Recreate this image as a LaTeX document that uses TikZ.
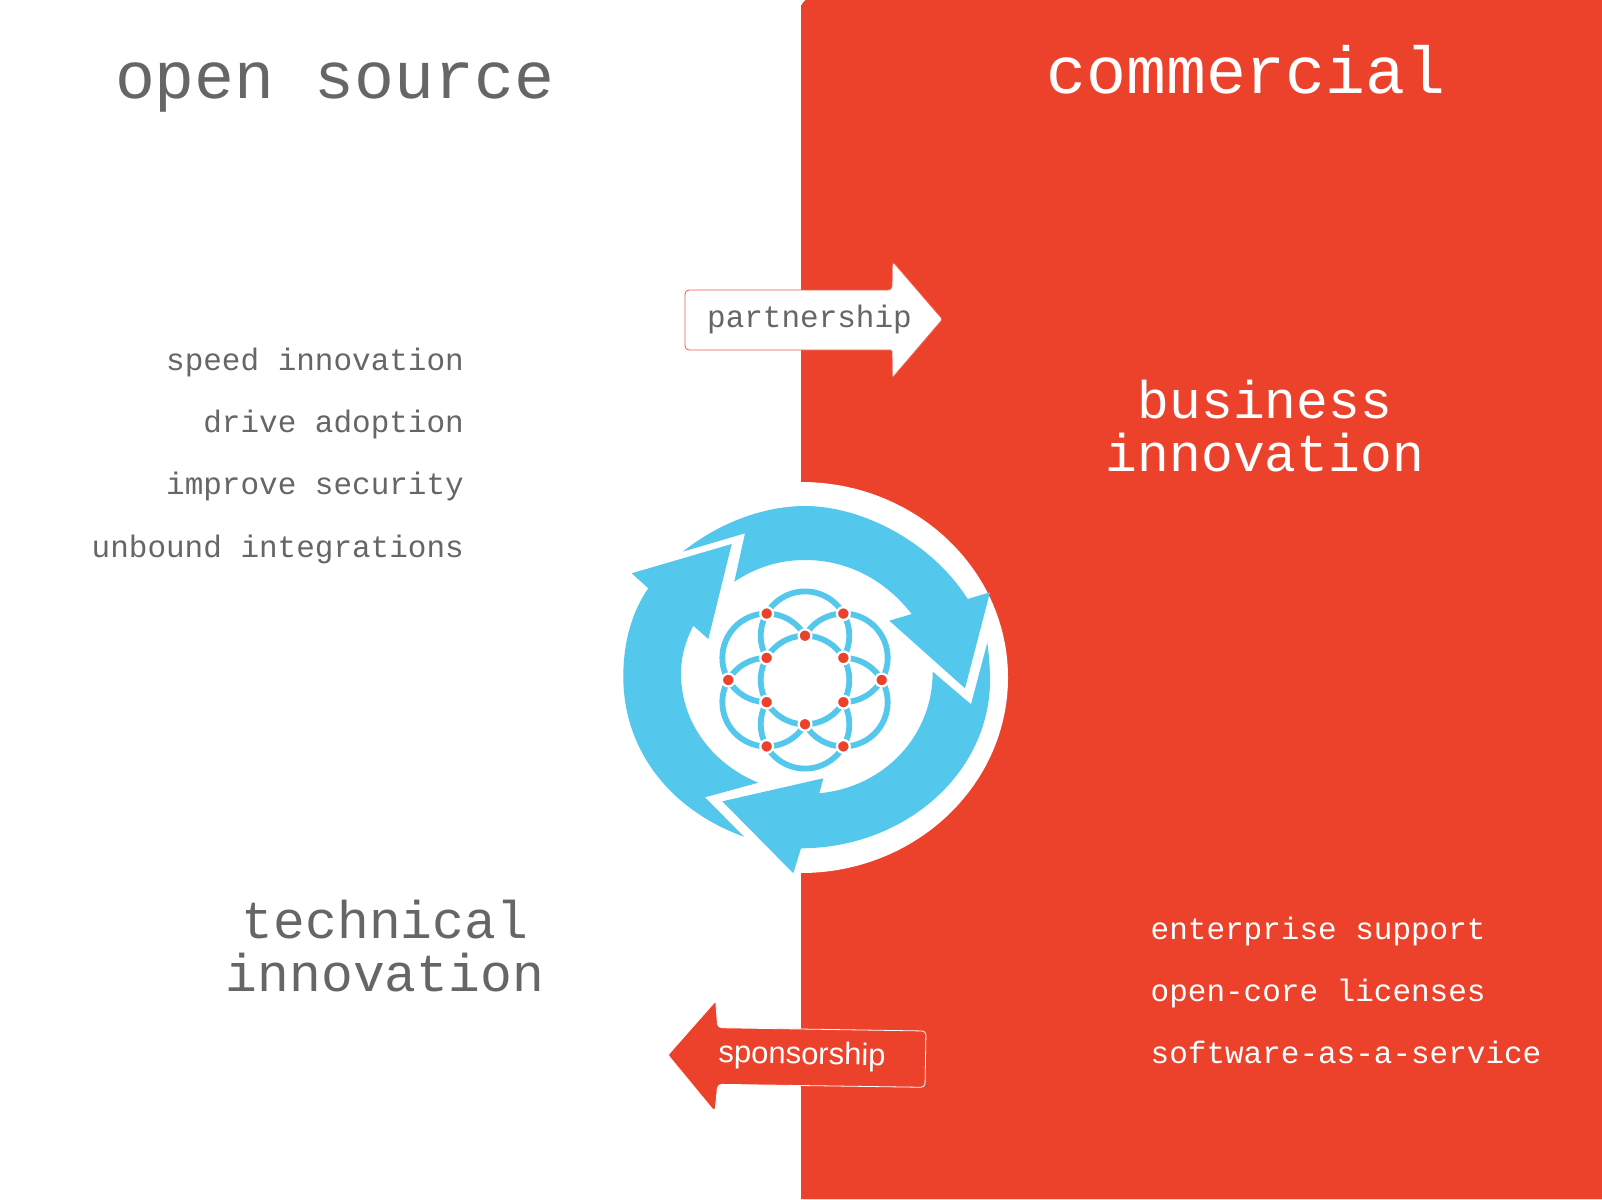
\documentclass[tikz,border=0pt]{standalone}
\usepackage{fontspec}
\setmonofont{Liberation Mono}
\setsansfont{Liberation Sans}
\definecolor{panelred}{RGB}{236,65,43}
\definecolor{swirlblue}{RGB}{84,199,236}
\definecolor{textgray}{RGB}{102,102,102}

\begin{document}
\begin{tikzpicture}[
 x=1pt, y=-1pt,
 heading/.style={anchor=base, font=\ttfamily\fontsize{66.5}{66.5}\selectfont},
 bigtext/.style={align=center, font=\ttfamily\fontsize{53}{53.5}\selectfont},
 listleft/.style={anchor=base east, inner sep=0pt, text=textgray, font=\ttfamily\fontsize{31}{31}\selectfont},
 listright/.style={anchor=base west, inner sep=0pt, text=white, font=\ttfamily\fontsize{31}{31}\selectfont},
 swirl/.style={fill=swirlblue},
 petal/.style={draw=swirlblue, line width=5.8pt},
 dotmark/.style={circle, fill=panelred, draw=white, line width=2.3pt, minimum size=12.8pt, inner sep=0pt}
]
\useasboundingbox (0,0) rectangle (1602,1199);

% background
\fill[white] (0,0) rectangle (1602,1199);
\fill[panelred] (801,1199) -- (801,5) to[out=-90,in=180] (806,0) -- (1602,0) -- (1602,1199) -- cycle;
\fill[white] (801,482) arc[start angle=-90, end angle=90, x radius=207, y radius=195.5] -- cycle;

% headings
\node[heading, text=textgray] (opensource) at (334.5,98) {open source};
\node[heading, text=white] (commercial) at (1246,93) {commercial};
\node[bigtext, text=white] (business) at (1265,426) {business\\innovation};
\node[bigtext, text=textgray] (technical) at (385,946) {technical\\innovation};

% left list
\node[listleft] (speed) at (464,370) {speed innovation};
\node[listleft] (adoption) at (464,432) {drive adoption};
\node[listleft] (security) at (464,494.5) {improve security};
\node[listleft] (integrations) at (464,557) {unbound integrations};

% right list
\node[listright] (support) at (1150.5,939) {enterprise support};
\node[listright] (licenses) at (1150.5,1001) {open-core licenses};
\node[listright] (saas) at (1150.5,1063) {software-as-a-service};

% partnership arrow
\draw[fill=white, draw=panelred!85!white, line width=0.8pt, rounded corners=4pt]
 (685,290) -- (892,290) -- (892.3,261) [rounded corners=1.5pt] -- (942.5,319.3) -- (892.3,378) -- (892,350) [rounded corners=4pt] -- (685,350) -- cycle;
\node[anchor=base, text=textgray, font=\ttfamily\fontsize{31}{31}\selectfont] (partnership) at (809.5,327) {partnership};

% sponsorship arrow
\draw[fill=panelred, draw=white, line width=0.8pt, rounded corners=4pt]
 (717.7,1027.7) -- (926,1031) -- (925,1087.3) -- (717.7,1084.3) -- (715,1112) [rounded corners=1.5pt] -- (668,1055) -- (715.7,1001) [rounded corners=4pt] -- cycle;
\node[rotate=-1, text=white, font=\sffamily\fontsize{31}{31}\selectfont] (sponsorship) at (802,1056) {sponsorship};

% swirl arrows
\fill[swirl] (682.7,551.7) .. controls (720,522) and (765,506) .. (805,506)
 .. controls (860,506) and (930,540) .. (967.7,599) -- (990,592.3) -- (965,688.3) -- (889.3,620.7) -- (911.7,614)
 .. controls (885,580) and (848,560) .. (805,560) .. controls (778,560) and (755,568) .. (734.3,581.7) -- (745,533.3) -- cycle;
\fill[swirl] (971,704.3) -- (987.3,642.7) .. controls (989,655) and (990,668) .. (990,680)
 .. controls (990,773) and (905,848) .. (801,848.3) -- (793.3,873.3) -- (722.3,801.3) -- (823.3,778.3) -- (819.3,793.3)
 .. controls (885,787) and (933,735) .. (932.7,671.7) -- cycle;
\fill[swirl] (744,836.7) .. controls (670,810) and (623.3,750) .. (623.3,676.7)
 .. controls (623.3,640) and (633,610) .. (648.3,588.3) -- (631.7,573.3) -- (731.7,544) -- (708.3,639) -- (693.3,625.7)
 .. controls (686,640) and (681,656) .. (681,673.3) .. controls (681,725) and (715,765) .. (758.3,782.7) -- (705,797.3) -- cycle;

% flower
\begin{scope}[shift={(805,680)}]
\draw[petal] (0,0) circle[radius=44.3];
\foreach \a in {30,90,...,330}
 \draw[petal] (\a:44.3) ++(\a-120:44.3) arc[start angle=\a-120, delta angle=240, radius=44.3];
\foreach \a in {30,90,...,330}
 \node[dotmark] (inner\a) at (\a:44.3) {};
\foreach \a in {0,60,...,300}
 \node[dotmark] (outer\a) at (\a:76.7) {};
\end{scope}

\end{tikzpicture}
\end{document}
